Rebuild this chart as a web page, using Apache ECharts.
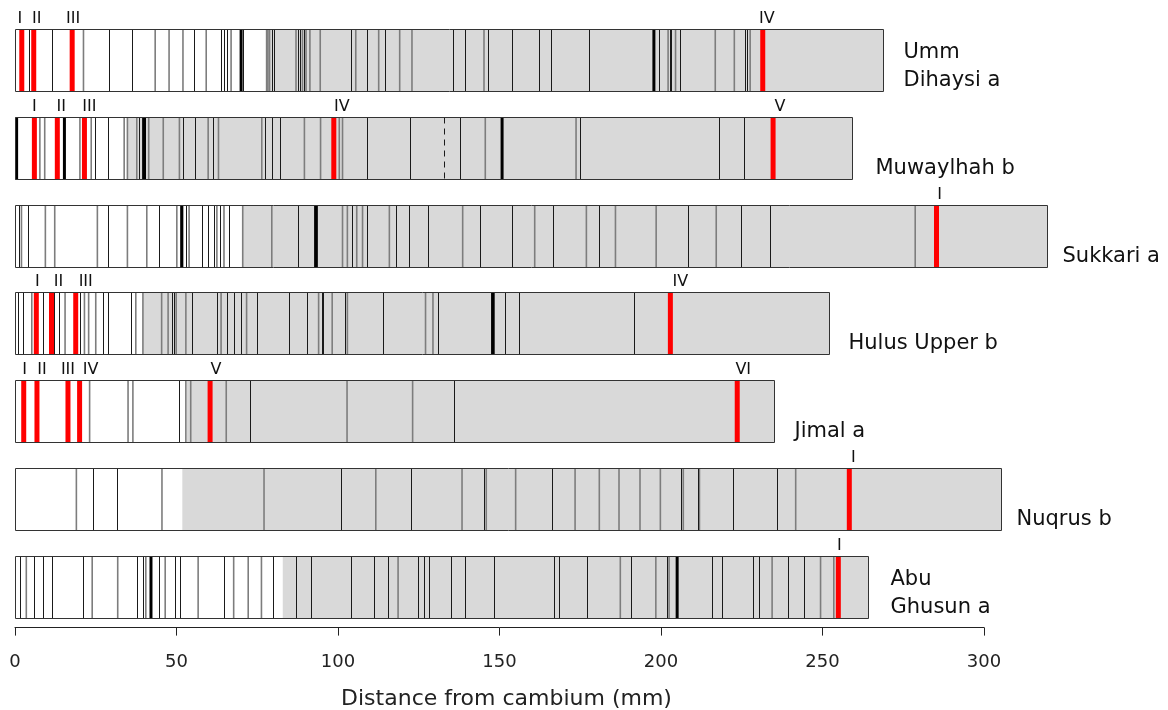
<!DOCTYPE html>
<html>
<head>
<meta charset="utf-8">
<script src="https://cdn.jsdelivr.net/npm/echarts@6/dist/echarts.min.js"></script>
<style>html,body{margin:0;padding:0;background:#fff}#c{width:1168px;height:710px}</style>
</head>
<body>
<div id="c"></div>
<script>
// ---- data (mm from cambium) ----
const sites = ['Umm\nDihaysi a', 'Muwaylhah b', 'Sukkari a', 'Hulus Upper b', 'Jimal a', 'Nuqrus b', 'Abu\nGhusun a'];
const stripEnd = [268.7, 259.2, 319.4, 252.0, 235.0, 305.4, 264.1];
const grayStart = [77.9, 34.8, 70.5, 39.6, 53.2, 51.8, 82.9];
const darkLines = [
  [4.3, 11.6, 29.0, 36.1, 55.4, 63.8, 64.7, 65.6, 69.6, 70.5, 79.5, 80.3, 87.5, 88.2, 89.5, 103.9, 109.0, 114.6, 135.5, 139.2, 146.4, 153.8, 162.2, 165.8, 177.7, 199.5, 202.7, 203.2, 206.0, 226.0, 226.7],
  [24.7, 28.7, 38.5, 39.4, 51.9, 55.7, 61.4, 77.5, 79.7, 81.9, 109.1, 122.2, 137.8, 174.8, 217.9, 225.7],
  [1.2, 4.1, 28.7, 44.5, 51.3, 52.9, 58.0, 59.9, 61.5, 63.4, 66.2, 87.5, 92.7, 104.2, 109.1, 118.0, 122.0, 127.9, 144.1, 153.9, 166.5, 180.8, 208.4, 224.9, 233.6],
  [1.0, 2.4, 8.8, 12.1, 13.6, 20.1, 27.2, 28.7, 35.9, 48.7, 49.2, 54.9, 62.5, 65.5, 67.8, 70.1, 75.0, 84.7, 90.4, 94.9, 95.5, 102.3, 113.8, 130.9, 147.4, 151.6, 155.9, 191.5],
  [15.9, 50.9, 72.7, 135.8],
  [24.3, 31.7, 101.0, 122.6, 145.3, 166.2, 206.2, 211.5, 222.4, 236.0],
  [1.5, 6.0, 8.6, 11.6, 20.9, 37.8, 39.6, 44.5, 49.4, 51.0, 64.7, 79.8, 87.1, 91.6, 104.0, 111.0, 115.5, 124.8, 126.7, 128.2, 135.0, 139.3, 148.2, 166.9, 168.3, 177.1, 190.7, 201.9, 215.7, 219.0, 228.5, 230.4, 239.3, 244.2]
];
const grayLines = [
  [21.2, 43.4, 47.7, 52.0, 59.2, 66.9, 77.9, 78.3, 78.8, 87.0, 89.0, 90.1, 91.3, 94.5, 105.5, 112.6, 119.1, 122.9, 145.2, 202.2, 204.5, 216.8, 222.7, 227.6],
  [7.7, 9.2, 20.1, 23.6, 33.8, 34.8, 37.7, 41.4, 45.9, 50.9, 59.8, 63.0, 76.4, 89.6, 94.6, 100.4, 101.4, 145.6, 173.7],
  [2.0, 9.4, 12.3, 25.5, 34.8, 40.8, 50.1, 51.9, 53.9, 62.5, 64.7, 70.5, 79.5, 101.4, 102.9, 105.8, 107.6, 115.9, 138.6, 160.9, 176.9, 185.9, 198.5, 217.1, 278.7],
  [5.2, 15.5, 21.5, 22.8, 25.0, 37.4, 39.6, 45.4, 47.4, 49.9, 52.9, 63.8, 71.7, 94.0, 98.2, 102.9, 127.1, 129.4, 148.3],
  [23.1, 35.0, 36.5, 52.9, 54.4, 65.4, 102.8, 123.1],
  [19.0, 45.5, 77.1, 111.7, 138.4, 145.9, 155.0, 173.4, 180.9, 187.0, 193.5, 199.8, 206.9, 211.9, 241.7],
  [3.5, 23.9, 31.8, 40.5, 46.5, 56.7, 67.7, 72.2, 76.3, 118.6, 187.4, 198.4, 202.5, 234.4, 249.4, 253.5]
];
const thickLines = [
  [70.0, 197.8],
  [0.5, 15.3, 40.1, 150.8],
  [51.6, 93.3],
  [148.0],
  [],
  [],
  [42.1, 205.0]
];
const dashedLines = [[], [132.7], [], [], [], [], []];
const redLines = [
  [2.1, 5.8, 17.7, 231.5],
  [6.0, 13.1, 21.5, 98.7, 234.7],
  [285.3],
  [6.6, 11.3, 18.8, 202.9],
  [2.7, 6.8, 16.4, 20.0, 60.4, 223.6],
  [258.3],
  [254.9]
];
const redLabels = [
  ['I', 'II', 'III', 'IV'],
  ['I', 'II', 'III', 'IV', 'V'],
  ['I'],
  ['I', 'II', 'III', 'IV'],
  ['I', 'II', 'III', 'IV', 'V', 'VI'],
  ['I'],
  ['I']
];
const xTicks = [0, 50, 100, 150, 200, 250, 300];

// ---- layout / style (pixels) ----
const labelShift = [
  [-2, 3, 1, 4],
  [0, 4, 5, 8, 7],
  [3],
  [1, 7, 10, 10],
  [1, 5, 0, 11, 6, 6],
  [4],
  [1]
];
const nameShift = [20, 23, 15, 19, 20, 15, 22];

const chart = echarts.init(document.getElementById('c'), null, {renderer: 'canvas'});
const FONT = '"DejaVu Sans", Verdana, sans-serif';

function renderItem(params, api) {
  const i = params.dataIndex;
  const bandH = api.size([0, 1])[1];
  const c0 = api.coord([0, i]);
  const top = Math.round(c0[1] - bandH / 2) + 0.5;
  const h = Math.round(bandH * 0.706);
  const X = v => api.coord([v, i])[0];
  const x0 = Math.round(X(0)) + 0.5;
  const xg = X(grayStart[i]);
  const xe = Math.round(X(stripEnd[i])) + 0.5;
  const kids = [];
  kids.push({type: 'rect', shape: {x: x0, y: top, width: xg - x0, height: h}, style: {fill: '#ffffff'}});
  kids.push({type: 'rect', shape: {x: xg, y: top, width: xe - xg, height: h}, style: {fill: '#d9d9d9'}});
  const vline = (v, stroke, lw, dash) => {
    let x = X(v);
    if (lw <= 1) x = Math.round(x) + 0.5;
    kids.push({type: 'line', shape: {x1: x, y1: top, x2: x, y2: top + h},
      style: {stroke: stroke, lineWidth: lw, lineDash: dash || null}});
  };
  grayLines[i].forEach(v => vline(v, '#7d7d7d', 1.6));
  darkLines[i].forEach(v => vline(v, '#1a1a1a', 1));
  thickLines[i].forEach(v => vline(v, '#000000', 3));
  dashedLines[i].forEach(v => vline(v, '#1a1a1a', 1, [6, 5]));
  redLines[i].forEach((v, k) => {
    vline(v, '#ff0000', 5);
    kids.push({type: 'text', x: X(v) + labelShift[i][k], y: top - 3,
      style: {text: redLabels[i][k], fill: '#111', font: '16px ' + FONT, textAlign: 'center', textVerticalAlign: 'bottom'}});
  });
  kids.push({type: 'rect', shape: {x: x0, y: top, width: xe - x0, height: h},
    style: {fill: 'none', stroke: '#333333', lineWidth: 1}});
  kids.push({type: 'text', x: xe + nameShift[i], y: top + h + 3,
    style: {text: sites[i], fill: '#111', font: '21px ' + FONT, lineHeight: 28, textAlign: 'left', textVerticalAlign: 'bottom'}});
  return {type: 'group', children: kids};
}

chart.setOption({
  animation: false,
  backgroundColor: '#ffffff',
  grid: {left: 15, width: 969, top: 29, height: 614.6, containLabel: false, outerBoundsMode: 'none'},
  xAxis: {
    type: 'value', min: 0, max: 300, interval: 50,
    offset: -16,
    axisLine: {show: true, lineStyle: {color: '#222', width: 1}},
    axisTick: {show: true, length: 8, lineStyle: {color: '#222'}},
    axisLabel: {fontSize: 18, color: '#222', fontFamily: FONT, margin: 26,
      formatter: v => (xTicks.indexOf(v) >= 0 ? String(v) : '')},
    splitLine: {show: false},
    name: 'Distance from cambium (mm)', nameLocation: 'middle', nameGap: 61,
    nameTextStyle: {fontSize: 22, color: '#222', fontFamily: FONT, padding: [0, 0, 0, 14]}
  },
  yAxis: {type: 'category', inverse: true, data: sites, show: false},
  series: [{
    type: 'custom', clip: false,
    renderItem: renderItem,
    data: sites.map((s, i) => [0, i]),
    encode: {x: 0, y: 1}
  }]
});
</script>
</body>
</html>
